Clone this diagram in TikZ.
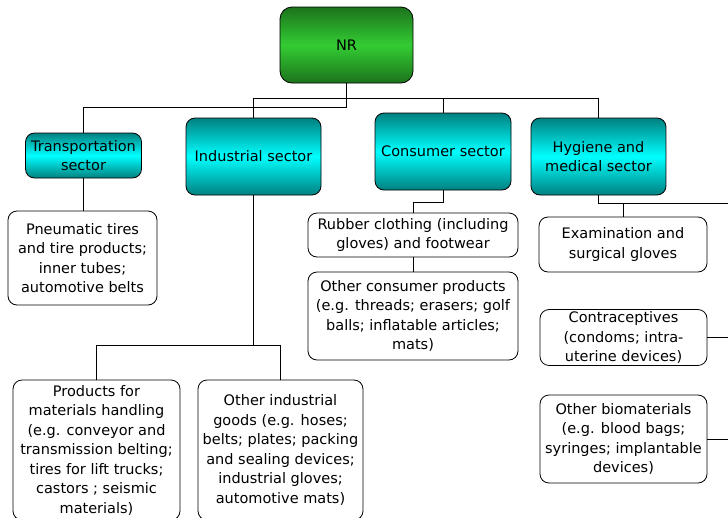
\documentclass[tikz,border=0pt]{standalone}
\usepackage{fontspec}
\setmainfont{DejaVu Sans}
\definecolor{tealdk}{RGB}{0,128,128}
\definecolor{cyanlt}{RGB}{0,255,255}
\definecolor{grdk}{RGB}{28,115,28}
\definecolor{grlt}{RGB}{51,204,51}
\begin{document}
\begin{tikzpicture}[x=1pt,y=-1pt,
  every node/.style={font=\fontsize{14.5}{19.5}\selectfont, align=center, inner sep=2pt},
  rootbox/.style={draw=black, line width=0.8pt, rounded corners=12pt,
    top color=grdk, bottom color=grdk, middle color=grlt},
  sectbox/.style={draw=black, line width=0.8pt, rounded corners=9pt,
    top color=tealdk, bottom color=tealdk, middle color=cyanlt},
  itembox/.style={draw=black, line width=0.8pt, rounded corners=9pt, fill=white},
  conn/.style={draw=black, line width=0.9pt}]
\useasboundingbox (0,0) rectangle (728,517);

% root
\node[rootbox, minimum width=133, minimum height=76] (NR) at (346.5,45) {NR};

% sectors
\node[sectbox, minimum width=116, minimum height=45] (Tra) at (83.5,155.5) {Transportation\\sector};
\node[sectbox, minimum width=135, minimum height=77] (Ind) at (253.5,156.5) {Industrial sector};
\node[sectbox, minimum width=136, minimum height=77] (Con) at (443,151.5) {Consumer sector};
\node[sectbox, minimum width=135, minimum height=77] (Hyg) at (598.5,156.5) {Hygiene and\\medical sector};

% items
\node[itembox, minimum width=149, minimum height=94] (Pne) at (82.5,258) {Pneumatic tires\\and tire products;\\inner tubes;\\automotive belts};
\node[itembox, minimum width=210, minimum height=44] (Rub) at (413,235) {Rubber clothing (including\\gloves) and footwear};
\node[itembox, minimum width=210, minimum height=88] (Ocp) at (413,316) {Other consumer products\\(e.g. threads; erasers; golf\\balls; inflatable articles;\\mats)};
\node[itembox, minimum width=168, minimum height=55] (Exa) at (623,244.5) {Examination and\\surgical gloves};
\node[itembox, minimum width=167, minimum height=55] (Ctr) at (623.5,337.5) {Contraceptives\\(condoms; intra-\\uterine devices)};
\node[itembox, minimum width=167, minimum height=88] (Obm) at (623.5,439) {Other biomaterials\\(e.g. blood bags;\\syringes; implantable\\devices)};
\node[itembox, minimum width=167, minimum height=140] (Prd) at (96.5,450) {Products for\\materials handling\\(e.g. conveyor and\\transmission belting;\\tires for lift trucks;\\castors ; seismic\\materials)};
\node[itembox, minimum width=165, minimum height=140] (Oig) at (280.5,450) {Other industrial\\goods (e.g. hoses;\\belts; plates; packing\\and sealing devices;\\industrial gloves;\\automotive mats)};

% free ends on the right edge
\coordinate (hr) at (728,203);
\coordinate (cr) at (728,337.5);
\coordinate (br) at (728,439);

% connectors from root
\draw[conn] (NR.south) -- ++(0,15) -| (Ind.north);
\draw[conn] (NR.south) -- ++(0,15) -| (Hyg.north);
\draw[conn, line width=1.8pt] (NR.south) ++(0,15) -- ++(95.5,0);
\draw[conn] (NR.south) -- ++(0,15) -| (Con.north);
\draw[conn] (NR.south) -- ++(0,24) -| (Tra.north);

% transportation
\draw[conn] (Tra.south) -- (Tra.south |- Pne.north);

% industrial
\draw[conn] (Ind.south) -- ++(0,150) -| (Prd.north);
\draw[conn] (Ind.south) -- ++(0,150) -| (Oig.north);

% consumer
\draw[conn] (Con.south) -- ++(0,12) -| (Rub.north);
\draw[conn] (Rub.south) -- (Ocp.north);

% hygiene
\draw[conn] (Hyg.south) |- (hr);
\draw[conn] (Exa.north) -- (Exa.north |- hr);
\draw[conn] (Ctr.east) -- (cr);
\draw[conn] (Obm.east) -- (br);
\end{tikzpicture}
\end{document}
